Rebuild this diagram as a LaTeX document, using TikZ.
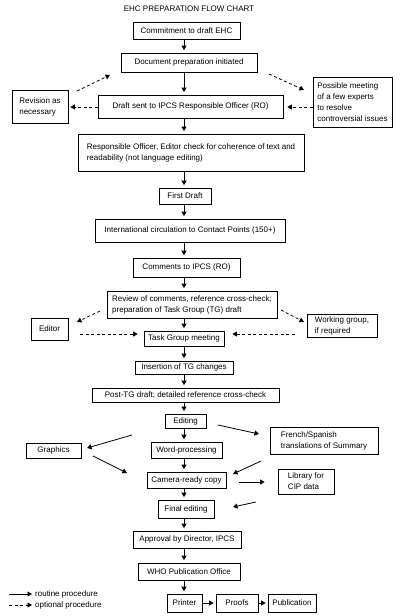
\documentclass[tikz,border=0pt]{standalone}
\usepackage{fontspec}
\setmainfont{Liberation Sans}
\usetikzlibrary{arrows.meta,calc}
\tikzset{
  box/.style={draw=black,line width=0.8pt,inner sep=0pt,align=left,font=\fontsize{8}{11}\selectfont},
  lbl/.style={inner sep=0pt,font=\fontsize{8}{10}\selectfont,anchor=west},
  arr/.style={line width=0.8pt,-{Triangle[length=4.5pt,width=5pt]}},
  darr/.style={arr,dash pattern=on 3pt off 2.5pt},
}
\newcommand\bx[6]{\node[box,minimum width={(#4-#2)*1pt},minimum height={(#5-#3)*1pt}] (#1) at ({(#2+#4)/2},{(#3+#5)/2}) {#6};}
\begin{document}
\begin{tikzpicture}[x=1pt,y=-1pt]
\useasboundingbox[fill=white] (0,0) rectangle (404,616);
\node[font=\fontsize{8}{9}\selectfont,inner sep=0pt] (title) at (189,9) {EHC PREPARATION FLOW CHART};
\coordinate (sp) at (184,0);
\bx{commit}{133}{22}{240}{39}{Commitment to draft EHC}
\bx{docprep}{121}{53}{257}{72}{Document preparation initiated}
\bx{draft}{98}{95}{283}{118}{Draft sent to IPCS Responsible Officer (RO)}
\bx{revision}{12}{90}{68}{123}{Revision as\\necessary}
\bx{possible}{313}{77}{392}{127}{Possible meeting\\of a few experts\\to resolve\\controversial issues}
\bx{resp}{78}{134}{304}{171}{Responsible Officer, Editor check for coherence of text and\\readability (not language editing)}
\bx{first}{159}{188}{211}{204}{First Draft}
\bx{intl}{95}{219}{285}{242}{International circulation to Contact Points (150+)}
\bx{comments}{133}{258}{240}{277}{Comments to IPCS (RO)}
\bx{review}{107}{291}{277}{318}{Review of comments, reference cross-check;\\preparation of Task Group (TG) draft}
\bx{editor}{31}{318}{68}{340}{Editor}
\bx{working}{307}{314}{377}{337}{Working group,\\if required}
\bx{tgm}{144}{331}{224}{346}{Task Group meeting}
\bx{insert}{135}{361}{233}{374}{Insertion of TG changes}
\bx{post}{92}{388}{279}{402}{Post-TG draft; detailed reference cross-check}
\bx{editing}{165}{414}{206}{428}{Editing}
\bx{word}{151}{442}{222}{458}{Word-processing}
\bx{camera}{147}{472}{226}{488}{Camera-ready copy}
\bx{graphics}{26}{443}{81}{458}{Graphics}
\bx{french}{270}{427}{378}{454}{French/Spanish\\translations of Summary}
\bx{library}{278}{469}{334}{494}{Library for\\CIP data}
\bx{final}{158}{500}{214}{518}{Final editing}
\bx{approval}{133}{531}{241}{548}{Approval by Director, IPCS}
\bx{who}{138}{563}{240}{580}{WHO Publication Office}
\bx{printer}{167}{594}{202}{612}{Printer}
\bx{proofs}{216}{594}{258}{612}{Proofs}
\bx{publication}{268}{594}{316}{612}{Publication}
% main column
\foreach \a/\b in {commit/docprep,docprep/draft,draft/resp,resp/first,first/intl,intl/comments,comments/review,review/tgm,tgm/insert,insert/post,post/editing,editing/word,word/camera,camera/final,final/approval,approval/who,who/printer}
  \draw[arr,shorten >=2.5pt] (\a.south -| sp) -- (\b.north -| sp);
% optional (dashed) links
\coordinate (c1a) at (77,91);  \coordinate (c1b) at (110,75);
\coordinate (c2a) at (269,74); \coordinate (c2b) at (304,90);
\coordinate (c3a) at (100,311); \coordinate (c3b) at (77,322);
\coordinate (c4a) at (281,310); \coordinate (c4b) at (304,322);
\draw[darr] (c1a) -- (c1b);
\draw[darr] (c2a) -- (c2b);
\draw[darr,shorten >=2pt] (draft.west |- 0,107) -- (revision.east |- 0,107);
\draw[darr,shorten >=4pt] (possible.west |- 0,107) -- (draft.east |- 0,107);
\draw[darr] (c3a) -- (c3b);
\draw[darr] (c4a) -- (c4b);
\draw[darr,shorten <=12pt,shorten >=6pt] (editor.east |- 0,334) -- (tgm.west |- 0,334);
\draw[darr,shorten <=12pt,shorten >=8pt] (working.west |- 0,334) -- (tgm.east |- 0,334);
% routine side links
\coordinate (s1a) at (132,435); \coordinate (s1b) at (87,448);
\coordinate (s2a) at (218,425); \coordinate (s2b) at (259,434);
\coordinate (s3a) at (93,456);  \coordinate (s3b) at (127,473);
\coordinate (s4a) at (261,461); \coordinate (s4b) at (233,474);
\coordinate (s6a) at (256,502); \coordinate (s6b) at (233,507);
\draw[arr] (s1a) -- (s1b);
\draw[arr] (s2a) -- (s2b);
\draw[arr] (s3a) -- (s3b);
\draw[arr] (s4a) -- (s4b);
\draw[arr,shorten <=13pt,shorten >=13pt] (camera.east |- 0,482) -- (library.west |- 0,482);
\draw[arr] (s6a) -- (s6b);
\draw[arr,shorten >=2pt] (printer.east) -- (proofs.west);
\draw[arr,shorten >=2pt] (proofs.east) -- (publication.west);
% legend
\coordinate (l1a) at (9,594); \coordinate (l1b) at (32,594);
\coordinate (l2a) at (9,605); \coordinate (l2b) at (32,605);
\draw[arr] (l1a) -- (l1b);
\draw[darr] (l2a) -- (l2b);
\node[lbl] (leg1) at (35,594) {routine procedure};
\node[lbl] (leg2) at (35,605) {optional procedure};
\end{tikzpicture}
\end{document}
